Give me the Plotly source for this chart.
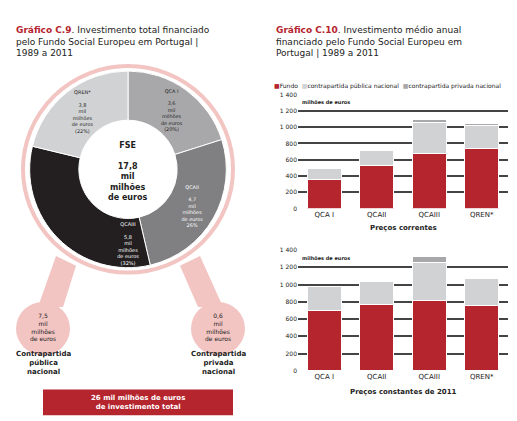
import plotly.graph_objects as go

# data
periods = ["QCA I", "QCAII", "QCAIII", "QREN*"]
pie_values = [3.6, 4.7, 5.8, 3.8]
pie_labels = ["QCA I<br><br>3,6<br>mil<br>milhões<br>de euros<br>(20%)",
              "QCAII<br><br>4,7<br>mil<br>milhões<br>de euros<br>26%",
              "QCAIII<br><br>5,8<br>mil<br>milhões<br>de euros<br>(32%)",
              "QREN*<br><br>3,8<br>mil<br>milhões<br>de euros<br>(22%)"]
pie_colors = ["#a8a8aa", "#808082", "#231f20", "#d1d2d4"]

fundo_cur = [355, 530, 680, 735]
publica_cur = [140, 180, 375, 290]
privada_cur = [0, 0, 35, 15]
fundo_const = [705, 770, 820, 760]
publica_const = [270, 260, 440, 310]
privada_const = [0, 0, 65, 15]
yticks = [0, 200, 400, 600, 800, 1000, 1200, 1400]
ytick_text = ["0", "200", "400", "600", "800", "1 000", "1 200", "1 400"]

RED = "#b5252e"
PINK = "#f2c4c2"
W, H = 517, 421

fig = go.Figure()

fig.add_trace(go.Pie(
    values=pie_values, text=pie_labels, textinfo="text", textposition="inside", hole=0.5,
    sort=False, direction="clockwise", rotation=0, automargin=False,
    marker=dict(colors=pie_colors, line=dict(color="white", width=1)),
    insidetextfont=dict(size=6, color=["#222", "white", "white", "#222"], family="DejaVu Sans"),
    insidetextorientation="horizontal", showlegend=False,
    domain=dict(x=[20 / W, 220 / W], y=[1 - 260 / H, 1 - 60 / H])))

def add_bars(xa, ya, fundo, pub, priv):
    fig.add_trace(go.Bar(x=periods, y=fundo, name="Fundo", marker=dict(color=RED, line=dict(color="white", width=1)),
                         xaxis=xa, yaxis=ya, width=0.65))
    fig.add_trace(go.Bar(x=periods, y=pub, name="contrapartida pública nacional",
                         marker=dict(color="#d1d2d4", line=dict(color="white", width=1)),
                         xaxis=xa, yaxis=ya, width=0.65))
    fig.add_trace(go.Bar(x=periods, y=priv, name="contrapartida privada nacional",
                         marker=dict(color="#a8a8aa", line=dict(color="white", width=1)),
                         xaxis=xa, yaxis=ya, width=0.65))

add_bars("x", "y", fundo_cur, publica_cur, privada_cur)
add_bars("x2", "y2", fundo_const, publica_const, privada_const)

yax = dict(range=[0, 1400], tickvals=yticks, ticktext=ytick_text, gridcolor="#444", gridwidth=1.5,
           tickfont=dict(size=6, color="#222"), zeroline=False, fixedrange=True)
xax = dict(tickfont=dict(size=7, color="#222", family="DejaVu Sans"), showline=False)
fig.update_layout(
    width=W, height=H, margin=dict(l=0, r=0, t=0, b=0), showlegend=False,
    paper_bgcolor="white", plot_bgcolor="white", barmode="stack",
    font=dict(family="DejaVu Sans", color="#222"),
    xaxis=dict(xax, domain=[290 / W, 500 / W], anchor="y"),
    yaxis=dict(yax, domain=[1 - 200 / H, 1 - 84 / H], anchor="x"),
    xaxis2=dict(xax, domain=[290 / W, 500 / W], anchor="y2"),
    yaxis2=dict(yax, domain=[1 - 365 / H, 1 - 242 / H], anchor="x2"),
)

def txt(x, y, s, size=7, color="#222", xanchor="center", align="center"):
    fig.add_annotation(x=x / W, y=1 - y / H, xref="paper", yref="paper", text=s, showarrow=False,
                       font=dict(size=size, color=color), xanchor=xanchor, yanchor="middle", align=align)

# titles
txt(6, 30, "<b><span style='color:#b5252e'>Gráfico C.9</span></b>. Investimento total financiado<br>pelo Fundo Social Europeu em Portugal |<br>1989 a 2011",
    size=9, xanchor="left", align="left")
txt(266, 30, "<b><span style='color:#b5252e'>Gráfico C.10</span></b>. Investimento médio anual<br>financiado pelo Fundo Social Europeu em<br>Portugal | 1989 a 2011",
    size=9, xanchor="left", align="left")
txt(264, 75, "<span style='color:#b5252e'>■</span>Fundo  <span style='color:#d1d2d4'>■</span>contrapartida pública nacional"
    "  <span style='color:#a8a8aa'>■</span>contrapartida privada nacional", size=6, xanchor="left")
txt(292, 92, "<b>milhões de euros</b>", size=5, xanchor="left")
txt(292, 250, "<b>milhões de euros</b>", size=5, xanchor="left")
txt(395, 220, "<b>Preços correntes</b>", size=7)
txt(395, 386, "<b>Preços constantes de 2011</b>", size=7)

# donut center and decorations
txt(120, 162, "<b>FSE<br><br>17,8<br>mil<br>milhões<br>de euros</b>", size=8)
cx, cy, r = 120, 160, 105
fig.add_shape(type="circle", xref="paper", yref="paper", layer="below",
              x0=(cx - r) / W, x1=(cx + r) / W, y0=1 - (cy + r) / H, y1=1 - (cy - r) / H,
              line=dict(color=PINK, width=4))
for px, label, val in [(35, "Contrapartida<br>pública<br>nacional", "7,5<br>mil<br>milhões<br>de euros"),
                       (210, "Contrapartida<br>privada<br>nacional", "0,6<br>mil<br>milhões<br>de euros")]:
    fig.add_shape(type="circle", xref="paper", yref="paper", layer="below",
                  x0=(px - 27) / W, x1=(px + 27) / W, y0=1 - (322 + 27) / H, y1=1 - (322 - 27) / H,
                  fillcolor=PINK, line_width=0)
    txt(px, 320, val, size=6)
    txt(px, 357, "<b>" + label + "</b>", size=7)
fig.add_shape(type="path", xref="paper", yref="paper", layer="below",
              path=f"M {48/W} {1-248/H} L {30/W} {1-300/H} L {55/W} {1-300/H} L {68/W} {1-258/H} Z",
              fillcolor=PINK, line_width=0)
fig.add_shape(type="path", xref="paper", yref="paper", layer="below",
              path=f"M {192/W} {1-248/H} L {215/W} {1-300/H} L {190/W} {1-300/H} L {172/W} {1-258/H} Z",
              fillcolor=PINK, line_width=0)
fig.add_shape(type="rect", xref="paper", yref="paper", x0=35 / W, x1=225 / W, y0=1 - 410 / H, y1=1 - 384 / H,
              fillcolor=RED, line_width=0)
txt(130, 397, "<b>26 mil milhões de euros<br>de investimento total</b>", size=7, color="white")

fig.write_html("out.html")
